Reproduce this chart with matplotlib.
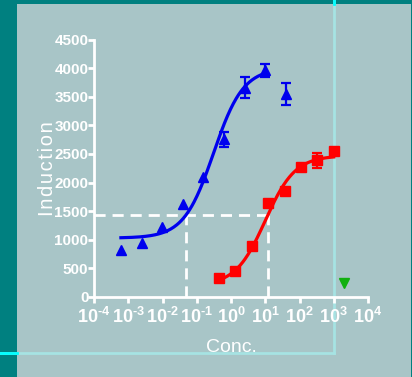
import numpy as np
import matplotlib
matplotlib.use("Agg")
import matplotlib.pyplot as plt
from matplotlib.lines import Line2D
from matplotlib.patches import Rectangle

plt.rcParams['font.family'] = ['Liberation Sans', 'DejaVu Sans']
plt.rcParams['mathtext.fontset'] = 'custom'
plt.rcParams['mathtext.rm'] = 'Liberation Sans:bold'
plt.rcParams['mathtext.bf'] = 'Liberation Sans:bold'

# compound A (blue triangles)
conc_a = [6.1e-4, 2.44e-3, 9.8e-3, 3.9e-2, 0.156, 0.625, 2.5, 10.0, 40.0]
resp_a = [820, 950, 1230, 1620, 2100, 2760, 3660, 3960, 3550]
err_a = [0, 0, 0, 0, 0, 130, 180, 120, 190]
fit_a = dict(bottom=1030, top=4000, logec50=-0.51, hill=1.0, lo=6.1e-4, hi=10.0)

# compound B (red squares)
conc_b = [0.45, 1.35, 4.1, 12.3, 37.0, 111.0, 333.0, 1000.0]
resp_b = [330, 455, 900, 1640, 1850, 2270, 2390, 2550]
err_b = [0, 0, 0, 0, 0, 0, 130, 0]
fit_b = dict(bottom=200, top=2470, logec50=1.0, hill=1.0, lo=0.45, hi=1000.0)

# vehicle (green)
conc_c = [2000.0]
resp_c = [250]

# reference response level for the dashed guide
ref_level = 1430

yticks = list(range(0, 4501, 500))
xexps = list(range(-4, 5))

bg = '#a8c5c7'
teal = '#008080'
blue = '#0000ee'
red = '#ff0000'


def logistic(x, p):
    return p['bottom'] + (p['top'] - p['bottom']) / (1 + 10 ** ((p['logec50'] - np.log10(x)) * p['hill']))


def inverse(y, p):
    r = (p['top'] - p['bottom']) / (y - p['bottom']) - 1
    return 10 ** (p['logec50'] - np.log10(r) / p['hill'])


def with_err(x, y, e):
    keep = [i for i in range(len(e)) if e[i] > 0]
    return [x[i] for i in keep], [y[i] for i in keep], [e[i] for i in keep]


def pow_label(k):
    exp = str(abs(k)) if k >= 0 else r'\text{-}' + str(abs(k))
    return r'$10^{%s}$' % exp


fig = plt.figure(figsize=(4.12, 3.77), dpi=100, facecolor=bg)
W, H = 412.0, 377.0

# frame decoration
fig.add_artist(Rectangle((0, 0), 17 / W, 1, transform=fig.transFigure, color=teal, zorder=-3, lw=0))
fig.add_artist(Rectangle((0, 1 - 4 / H), 1, 4 / H, transform=fig.transFigure, color=teal, zorder=-3, lw=0))
fig.add_artist(Rectangle((411 / W, 0), 1 / W, 1, transform=fig.transFigure, color=teal, zorder=-3, lw=0))
yl = 1 - 352.5 / H
xl = 333.5 / W
fig.add_artist(Line2D([0, xl], [yl, yl], transform=fig.transFigure, color='#a6e3e3', lw=2, zorder=-2))
fig.add_artist(Line2D([xl, xl], [yl, 1], transform=fig.transFigure, color='#a6e3e3', lw=2, zorder=-2))
fig.add_artist(Line2D([0, 17 / W], [yl, yl], transform=fig.transFigure, color='#00ffff', lw=2, zorder=-1))
fig.add_artist(Line2D([xl, xl], [1 - 4 / H, 1], transform=fig.transFigure, color='#00ffff', lw=2, zorder=-1))

ax = fig.add_axes([94 / W, 1 - 297 / H, 274 / W, 257.5 / H])
ax.set_facecolor('none')
ax.set_xscale('log')
ax.set_xlim(1e-4, 1e4)
ax.set_ylim(0, 4500)

# dashed guide lines
xa = inverse(ref_level, fit_a)
xb = inverse(ref_level, fit_b)
dash = dict(color='white', lw=2, dashes=(4, 2.5), zorder=2)
ax.plot([1e-4, xb], [ref_level, ref_level], **dash)
ax.plot([xa, xa], [0, ref_level], **dash)
ax.plot([xb, xb], [0, ref_level], **dash)

# fitted curves
xs = np.logspace(np.log10(fit_a['lo']), np.log10(fit_a['hi']), 200)
ax.plot(xs, logistic(xs, fit_a), color=blue, lw=2.3, zorder=3)
xs = np.logspace(np.log10(fit_b['lo']), np.log10(fit_b['hi']), 200)
ax.plot(xs, logistic(xs, fit_b), color=red, lw=2.3, zorder=3)

# data points, error bars only where there is a spread
ax.plot(conc_a, resp_a, '^', color=blue, ms=7, zorder=4)
ax.errorbar(*with_err(conc_a, resp_a, err_a), fmt='none', ecolor=blue,
            capsize=3.5, elinewidth=1.6, capthick=1.6, zorder=4)
ax.plot(conc_b, resp_b, 's', color=red, ms=7, zorder=4)
ax.errorbar(*with_err(conc_b, resp_b, err_b), fmt='none', ecolor=red,
            capsize=3.5, elinewidth=1.6, capthick=1.6, zorder=4)
ax.plot(conc_c, resp_c, 'v', color='#10b010', ms=6.5, zorder=4)

for s in ['top', 'right']:
    ax.spines[s].set_visible(False)
for s in ['left', 'bottom']:
    ax.spines[s].set_color('white')
    ax.spines[s].set_linewidth(2)

ax.set_yticks(yticks)
ax.set_yticklabels([str(v) for v in yticks], fontweight='bold', fontsize=11)
ax.set_xticks([10.0 ** k for k in xexps])
ax.set_xticklabels([pow_label(k) for k in xexps], fontsize=13)
ax.minorticks_off()
ax.tick_params(colors='white', width=2, length=4)
ax.tick_params(axis='y', pad=0)
ax.tick_params(axis='x', pad=3)

ax.set_ylabel('\u200a'.join('Induction'), color='white', fontsize=14.5, labelpad=-2)
ax.set_xlabel('Conc.', color='white', fontsize=14, labelpad=9)

fig.savefig('out.png', dpi=100, facecolor=bg)
